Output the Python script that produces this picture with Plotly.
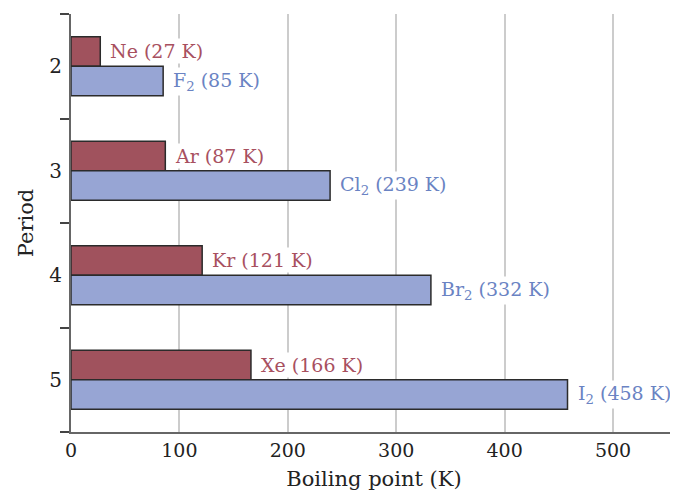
import plotly.graph_objects as go

periods = [2, 3, 4, 5]
period_labels = ["2", "3", "4", "5"]
noble_names = ["Ne", "Ar", "Kr", "Xe"]
noble_bp = [27, 87, 121, 166]
halogen_names = ["F<sub>2</sub>", "Cl<sub>2</sub>", "Br<sub>2</sub>", "I<sub>2</sub>"]
halogen_bp = [85, 239, 332, 458]
x_ticks = [0, 100, 200, 300, 400, 500]
y_boundaries = [1.5, 2.5, 3.5, 4.5, 5.5]

RED = "#a0525d"
BLUE = "#97a5d4"
RED_TXT = "#a8505f"
BLUE_TXT = "#6a83c3"
FONT = "DejaVu Serif"
FS = 19

fig = go.Figure()
fig.add_trace(go.Bar(y=periods, x=noble_bp, orientation="h", marker=dict(color=RED, line=dict(color="#2b2b2b", width=1.5)), name="Noble gas"))
fig.add_trace(go.Bar(y=periods, x=halogen_bp, orientation="h", marker=dict(color=BLUE, line=dict(color="#2b2b2b", width=1.5)), name="Halogen"))

ann = []
for p, n, v in zip(periods, noble_names, noble_bp):
    ann.append(dict(x=v, y=p, text=f"{n} ({v} K)", xref="x", yref="y", xanchor="left", yanchor="middle",
                    xshift=8, yshift=15, showarrow=False, bgcolor="white", borderpad=1,
                    font=dict(family=FONT, size=FS, color=RED_TXT)))
for p, n, v in zip(periods, halogen_names, halogen_bp):
    ann.append(dict(x=v, y=p, text=f"{n} ({v} K)", xref="x", yref="y", xanchor="left", yanchor="middle",
                    xshift=8, yshift=-15, showarrow=False, bgcolor="white", borderpad=1,
                    font=dict(family=FONT, size=FS, color=BLUE_TXT)))

# page body has an 8px default margin, so the figure is sized to fit the window
fig.update_layout(
    width=670, height=487,
    margin=dict(l=63, r=1, t=6, b=63),
    barmode="group", bargap=0.435, bargroupgap=0,
    showlegend=False,
    plot_bgcolor="white", paper_bgcolor="white",
    font=dict(family=FONT, size=FS, color="#222222"),
    annotations=ann,
    xaxis=dict(range=[0, 559], tickvals=x_ticks, showgrid=True, gridcolor="#cccccc", gridwidth=1.5,
               zeroline=False, showline=True, linecolor="#666666", linewidth=2, ticks="",
               automargin=False, title=dict(text="Boiling point (K)", standoff=12, font=dict(size=21)),
               tickfont=dict(size=FS)),
    yaxis=dict(range=[5.5, 1.5], tickvals=periods, ticktext=period_labels, ticks="", ticklen=0,
               ticklabelstandoff=3,
               minor=dict(tickvals=y_boundaries, ticks="outside", ticklen=9, tickcolor="#444444",
                          tickwidth=1.5, showgrid=False),
               showgrid=False, zeroline=False, showline=True, linecolor="#666666", automargin=False,
               linewidth=2, title=dict(text="Period", standoff=10, font=dict(size=21)),
               tickfont=dict(size=20)),
)

fig.write_html("out.html")
